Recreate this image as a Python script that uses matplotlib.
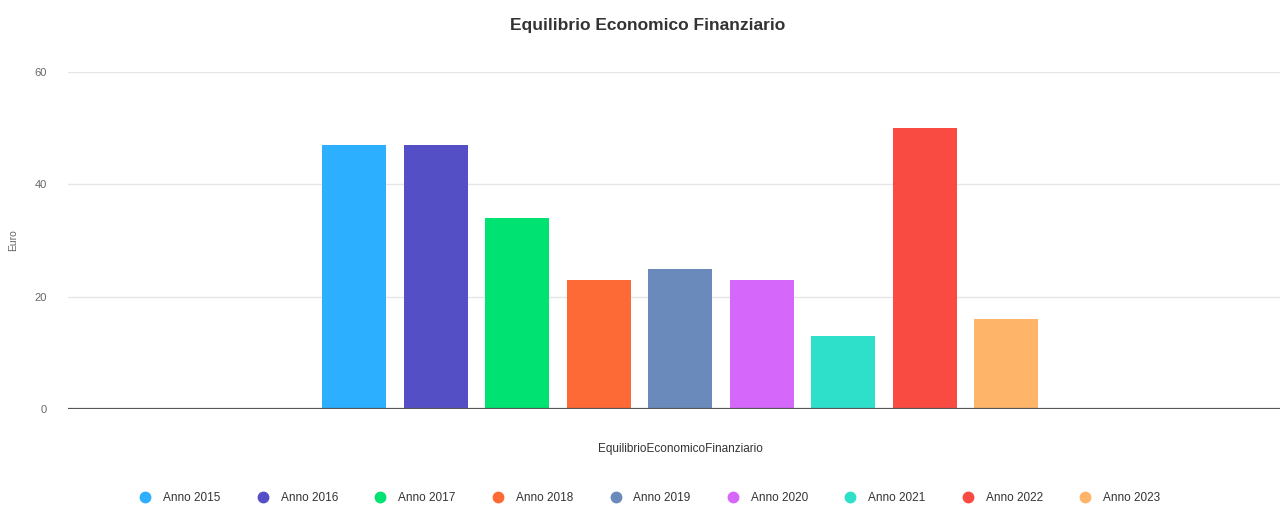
import matplotlib.pyplot as plt
from matplotlib.lines import Line2D

plt.rcParams['font.family'] = ['Liberation Sans', 'DejaVu Sans']

# Data
series = ['Anno 2015', 'Anno 2016', 'Anno 2017', 'Anno 2018', 'Anno 2019',
          'Anno 2020', 'Anno 2021', 'Anno 2022', 'Anno 2023']
values = [47, 47, 34, 23, 25, 23, 13, 50, 16]
colors = ['#2caffe', '#544fc5', '#00e272', '#fe6a35', '#6b8abc',
          '#d568fb', '#2ee0ca', '#fa4b42', '#feb56a']
category = 'EquilibrioEconomicoFinanziario'
yticks = [0, 20, 40, 60]

fig = plt.figure(figsize=(12.82, 5.07), dpi=100)
ax = fig.add_axes([68/1282, 98/507, 1212/1282, 337/507])

for i, (v, c) in enumerate(zip(values, colors)):
    ax.bar(i, v, width=0.785, color=c, zorder=3)

ax.set_xlim(-3.51, 8 + 3.36)
ax.set_ylim(0, 60)
ax.set_yticks(yticks)
ax.set_xticks([])
ax.grid(axis='y', color='#e6e6e6', linewidth=1, zorder=0)
ax.axhline(0, color='#555555', linewidth=1.6, zorder=4)
for s in ax.spines.values():
    s.set_visible(False)
ax.tick_params(axis='y', length=0, pad=15, labelsize=8, labelcolor='#666666')

ax.set_ylabel('Euro', fontsize=7.5, color='#666666', labelpad=12)
ax.set_xlabel(category, fontsize=8.5, color='#333333', labelpad=24)
ax.xaxis.set_label_coords(612/1212, -0.1)

fig.suptitle('Equilibrio Economico Finanziario', x=648/1282, y=0.965,
             fontsize=12.5, fontweight='bold', color='#333333')

handles = [Line2D([], [], marker='o', linestyle='none', markersize=7.5,
                  markerfacecolor=c, markeredgecolor=c) for c in colors]
fig.legend(handles, series, loc='center', bbox_to_anchor=(0.5045, 0.018),
           ncol=9, frameon=False, fontsize=8.5, handletextpad=0.5,
           columnspacing=2.6, labelcolor='#333333')

fig.savefig('out.png', dpi=100)
